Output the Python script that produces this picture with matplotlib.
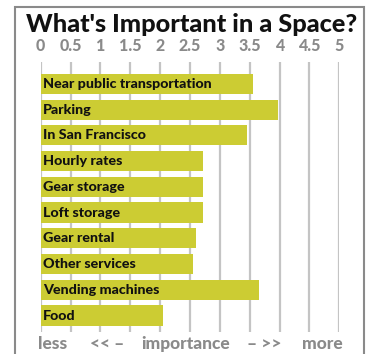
import matplotlib
matplotlib.use("Agg")
import matplotlib.pyplot as plt
from matplotlib.patches import Rectangle

categories = ["Near public transportation", "Parking", "In San Francisco", "Hourly rates",
              "Gear storage", "Loft storage", "Gear rental", "Other services",
              "Vending machines", "Food"]
values = [3.55, 3.97, 3.45, 2.71, 2.71, 2.71, 2.60, 2.55, 3.65, 2.04]
tick_values = [0, 0.5, 1, 1.5, 2, 2.5, 3, 3.5, 4, 4.5, 5]
tick_labels = ["0", "0.5", "1", "1.5", "2", "2.5", "3", "3.5", "4", "4.5", "5"]
bottom_labels = ["less", "<< \u2013", "importance", "\u2013 >>", "more"]
bottom_pos = [53, 107, 186, 264, 322]

W, H = 370, 354
fig = plt.figure(figsize=(W / 100, H / 100), dpi=100)
plt.rcParams['font.family'] = ['Lato', 'DejaVu Sans']

ax = fig.add_axes([40.7 / W, (H - 332) / H, 298.6 / W, 270 / H])
ypos = list(range(len(categories)))
ax.barh(ypos, values, height=0.78, color="#cccc33", zorder=3, left=0)
for y, c in zip(ypos, categories):
    ax.text(0.04, y, c, va="center", ha="left", fontsize=10.3, fontweight=900,
            color="#111111", zorder=4)
ax.set_xlim(0, 5)
ax.set_ylim(9 + 0.64, -0.847)
for t in tick_values:
    ax.axvline(t, color="#c4c4c4", lw=1.6, zorder=1)
ax.xaxis.tick_top()
ax.set_xticks(tick_values)
ax.set_xticklabels(tick_labels, fontsize=11.5, fontweight=900, color="#8a8a8a")
ax.tick_params(axis="x", length=0, pad=6)
ax.set_yticks([])
for s in ax.spines.values():
    s.set_visible(False)
ax.patch.set_visible(False)

fig.text(192 / W, 1 - 25 / H, "What's Important in a Space?", ha="center", va="center",
         fontsize=18.2, fontweight=900, color="#111111")
for lab, x in zip(bottom_labels, bottom_pos):
    fig.text(x / W, 1 - 344 / H, lab, ha="center", va="center", fontsize=12.5,
             fontweight=900, color="#8a8a8a")

fig.add_artist(Rectangle((15 / W, -0.05), (364 - 15) / W, 1.05 - 7 / H,
                         transform=fig.transFigure, fill=False, edgecolor="#8a8a8a", lw=1.5))

fig.savefig("out.png", dpi=100)
